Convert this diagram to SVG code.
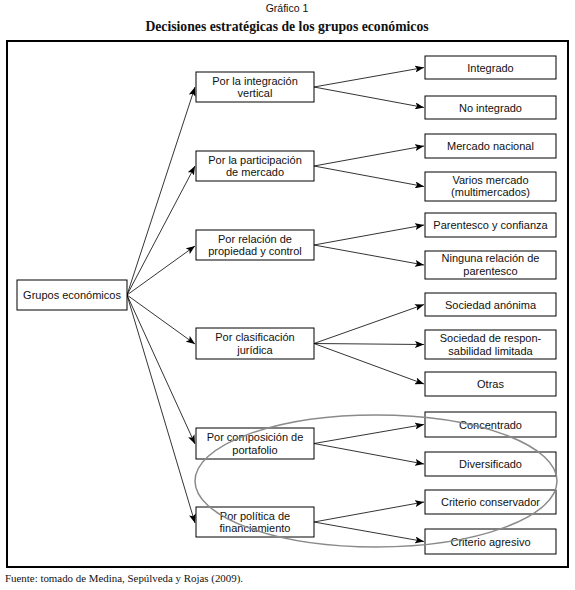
<svg xmlns="http://www.w3.org/2000/svg" width="575" height="590" viewBox="0 0 575 590">
<defs>
<style>
.box{fill:#fff;stroke:#000;stroke-width:1}
.t{font-family:"Liberation Sans",Arial,sans-serif;font-size:11px;fill:#111;text-anchor:middle}
.c{fill:none;stroke:#000;stroke-width:0.8;marker-end:url(#ah)}
</style>
<marker id="ah" markerUnits="userSpaceOnUse" markerWidth="9" markerHeight="7" refX="9" refY="3.5" orient="auto">
<path d="M0,0 L9,3.5 L0,7 L2,3.5 z" fill="#000"/>
</marker>
</defs>
<rect width="575" height="590" fill="#fff"/>
<text x="287" y="12" font-family="'Liberation Sans',Arial,sans-serif" font-size="10.5" text-anchor="middle" fill="#111">Gráfico 1</text>
<text x="287" y="31" font-family="'Liberation Serif','Times New Roman',serif" font-size="13.7" font-weight="bold" text-anchor="middle" fill="#111">Decisiones estratégicas de los grupos económicos</text>
<rect x="7" y="41" width="561" height="526" fill="none" stroke="#000" stroke-width="2"/>
<text x="5" y="582" font-family="'Liberation Serif','Times New Roman',serif" font-size="10.9" fill="#111">Fuente: tomado de Medina, Sepúlveda y Rojas (2009).</text>

<g id="connectors">
<path class="c" d="M127,295 L195,87"/>
<path class="c" d="M127,295 L195,166"/>
<path class="c" d="M127,295 L195,246"/>
<path class="c" d="M127,295 L195,344"/>
<path class="c" d="M127,295 L195,444"/>
<path class="c" d="M127,295 L195,523"/>
<path class="c" d="M314,87 L424,67.5"/>
<path class="c" d="M314,87 L424,107.5"/>
<path class="c" d="M314,166 L424,146"/>
<path class="c" d="M314,166 L424,186.5"/>
<path class="c" d="M314,245 L424,225"/>
<path class="c" d="M314,245 L424,265"/>
<path class="c" d="M314,343.5 L424,304.5"/>
<path class="c" d="M314,343.5 L424,344.5"/>
<path class="c" d="M314,343.5 L424,384"/>
<path class="c" d="M314,443.5 L424,424.5"/>
<path class="c" d="M314,443.5 L424,464"/>
<path class="c" d="M314,522 L424,502"/>
<path class="c" d="M314,522 L424,541.5"/>
</g>

<g id="n-grupos"><rect class="box" x="17" y="280" width="110" height="30"/><text class="t" x="72" y="299">Grupos económicos</text></g>

<g id="n-integracion"><rect class="box" x="196" y="72" width="118" height="30"/><text class="t" x="255" y="85">Por la integración</text><text class="t" x="255" y="97">vertical</text></g>
<g id="n-participacion"><rect class="box" x="196" y="151" width="118" height="30"/><text class="t" x="255" y="164">Por la participación</text><text class="t" x="255" y="176">de mercado</text></g>
<g id="n-relacion"><rect class="box" x="196" y="230" width="118" height="30"/><text class="t" x="255" y="243">Por relación de</text><text class="t" x="255" y="255">propiedad y control</text></g>
<g id="n-clasificacion"><rect class="box" x="196" y="328" width="118" height="31"/><text class="t" x="255" y="341">Por clasificación</text><text class="t" x="255" y="354">jurídica</text></g>
<g id="n-composicion"><rect class="box" x="196" y="428" width="118" height="31"/><text class="t" x="255" y="441">Por composición de</text><text class="t" x="255" y="454">portafolio</text></g>
<g id="n-politica"><rect class="box" x="196" y="507" width="118" height="30"/><text class="t" x="255" y="520">Por política de</text><text class="t" x="255" y="532">financiamiento</text></g>

<g id="n-integrado"><rect class="box" x="425" y="56" width="131" height="23"/><text class="t" x="490.5" y="71.5">Integrado</text></g>
<g id="n-nointegrado"><rect class="box" x="425" y="96" width="131" height="23"/><text class="t" x="490.5" y="111.5">No integrado</text></g>
<g id="n-nacional"><rect class="box" x="425" y="134" width="131" height="24"/><text class="t" x="490.5" y="150">Mercado nacional</text></g>
<g id="n-varios"><rect class="box" x="425" y="172" width="131" height="29"/><text class="t" x="490.5" y="184">Varios mercado</text><text class="t" x="490.5" y="196">(multimercados)</text></g>
<g id="n-parentesco"><rect class="box" x="425" y="213" width="131" height="24"/><text class="t" x="490.5" y="229">Parentesco y confianza</text></g>
<g id="n-ninguna"><rect class="box" x="425" y="251" width="131" height="28"/><text class="t" x="490.5" y="262">Ninguna relación de</text><text class="t" x="490.5" y="275">parentesco</text></g>
<g id="n-anonima"><rect class="box" x="425" y="293" width="131" height="23"/><text class="t" x="490.5" y="308.5">Sociedad anónima</text></g>
<g id="n-responsabilidad"><rect class="box" x="425" y="330" width="131" height="29"/><text class="t" x="490.5" y="342">Sociedad de respon-</text><text class="t" x="490.5" y="355">sabilidad limitada</text></g>
<g id="n-otras"><rect class="box" x="425" y="372" width="131" height="24"/><text class="t" x="490.5" y="388">Otras</text></g>
<g id="n-concentrado"><rect class="box" x="425" y="412" width="131" height="25"/><text class="t" x="490.5" y="428.5">Concentrado</text></g>
<g id="n-diversificado"><rect class="box" x="425" y="452" width="131" height="24"/><text class="t" x="490.5" y="468">Diversificado</text></g>
<g id="n-conservador"><rect class="box" x="425" y="490" width="131" height="24"/><text class="t" x="490.5" y="506">Criterio conservador</text></g>
<g id="n-agresivo"><rect class="box" x="425" y="529" width="131" height="25"/><text class="t" x="490.5" y="545.5">Criterio agresivo</text></g>

<ellipse cx="376" cy="481" rx="181" ry="66" fill="none" stroke="#8a8a8a" stroke-width="1.5"/>
</svg>
